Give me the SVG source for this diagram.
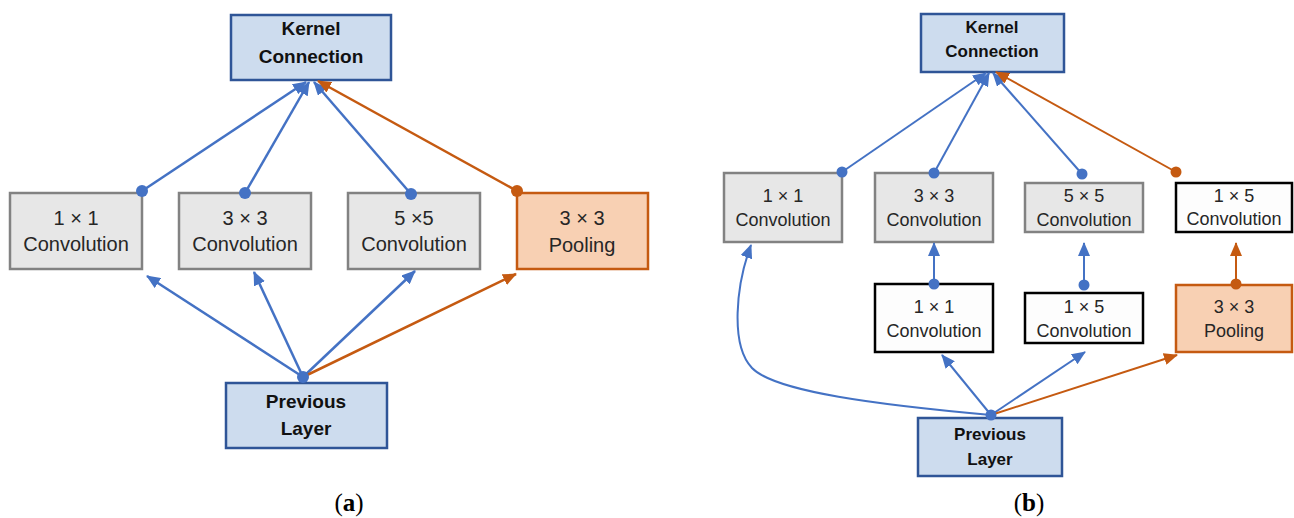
<svg xmlns="http://www.w3.org/2000/svg" width="1294" height="518" viewBox="0 0 1294 518">
<defs>
<style>
.blue{fill:#CDDCEE;stroke:#2F5597;stroke-width:2.5}
.gray{fill:#E7E7E7;stroke:#828282;stroke-width:2.5}
.pool{fill:#F8D0B3;stroke:#C55A11;stroke-width:2.5}
.white{fill:#FDFDFD;stroke:#000;stroke-width:2.5}
.t{font-family:"Liberation Sans",Arial,sans-serif;fill:#262626;text-anchor:middle}
.ta{font-size:20px}
.tb{font-size:18px}
.bt{font-family:"Liberation Sans",Arial,sans-serif;font-weight:bold;fill:#111;text-anchor:middle}
.cb{stroke:#4472C4;stroke-width:2.5;fill:none}
.co{stroke:#C55A11;stroke-width:2.5;fill:none}
.cb2{stroke:#4472C4;stroke-width:2;fill:none}
.co2{stroke:#C55A11;stroke-width:2;fill:none}
.db{fill:#4472C4}
.do{fill:#C55A11}
.lab{font-family:"Liberation Serif","Times New Roman",serif;font-size:25px;fill:#000;text-anchor:middle}
</style>
<marker id="ab" markerUnits="userSpaceOnUse" markerWidth="14" markerHeight="12" refX="13" refY="6" orient="auto" viewBox="0 0 14 12"><path d="M0,0 L14,6 L0,12 z" fill="#4472C4"/></marker>
<marker id="ao" markerUnits="userSpaceOnUse" markerWidth="14" markerHeight="12" refX="13" refY="6" orient="auto" viewBox="0 0 14 12"><path d="M0,0 L14,6 L0,12 z" fill="#C55A11"/></marker>
</defs>
<rect width="1294" height="518" fill="#fff"/>

<!-- panel a nodes -->
<g id="a-kernel"><rect class="blue" x="231" y="15" width="160" height="65"/><text class="bt" font-size="19" x="311" y="35">Kernel</text><text class="bt" font-size="19" x="311" y="63">Connection</text></g>
<g id="a-conv1"><rect class="gray" x="10" y="193" width="132" height="76"/><text class="t ta" x="76" y="225">1 × 1</text><text class="t ta" x="76" y="251">Convolution</text></g>
<g id="a-conv3"><rect class="gray" x="179" y="193" width="132" height="76"/><text class="t ta" x="245" y="225">3 × 3</text><text class="t ta" x="245" y="251">Convolution</text></g>
<g id="a-conv5"><rect class="gray" x="348" y="193" width="132" height="76"/><text class="t ta" x="414" y="225">5 ×5</text><text class="t ta" x="414" y="251">Convolution</text></g>
<g id="a-pool"><rect class="pool" x="517" y="193" width="131" height="76"/><text class="t ta" x="582" y="225">3 × 3</text><text class="t ta" x="582" y="252">Pooling</text></g>
<g id="a-prev"><rect class="blue" x="226" y="383" width="161" height="65"/><text class="bt" font-size="19" x="306" y="408">Previous</text><text class="bt" font-size="19" x="306" y="435">Layer</text></g>
<text class="lab" x="349" y="511">(<tspan font-weight="bold">a</tspan>)</text>

<!-- panel b nodes -->
<g id="b-kernel"><rect class="blue" x="921" y="14" width="143" height="58"/><text class="bt" font-size="17" x="992" y="33">Kernel</text><text class="bt" font-size="17" x="992" y="57">Connection</text></g>
<g id="b-conv1"><rect class="gray" x="724" y="173" width="118" height="69"/><text class="t tb" x="783" y="202">1 × 1</text><text class="t tb" x="783" y="226">Convolution</text></g>
<g id="b-conv3"><rect class="gray" x="875" y="173" width="118" height="69"/><text class="t tb" x="934" y="202">3 × 3</text><text class="t tb" x="934" y="226">Convolution</text></g>
<g id="b-conv5"><rect class="gray" x="1025" y="183" width="118" height="49"/><text class="t tb" x="1084" y="202">5 × 5</text><text class="t tb" x="1084" y="226">Convolution</text></g>
<g id="b-conv15top"><rect class="white" x="1176" y="183" width="116" height="49"/><text class="t tb" x="1234" y="202">1 × 5</text><text class="t tb" x="1234" y="225">Convolution</text></g>
<g id="b-conv1mid"><rect class="white" x="875" y="284" width="118" height="68"/><text class="t tb" x="934" y="313">1 × 1</text><text class="t tb" x="934" y="337">Convolution</text></g>
<g id="b-conv15mid"><rect class="white" x="1025" y="293" width="118" height="50"/><text class="t tb" x="1084" y="313">1 × 5</text><text class="t tb" x="1084" y="337">Convolution</text></g>
<g id="b-pool"><rect class="pool" x="1176" y="285" width="116" height="67"/><text class="t tb" x="1234" y="313">3 × 3</text><text class="t tb" x="1234" y="337">Pooling</text></g>
<g id="b-prev"><rect class="blue" x="918" y="418" width="144" height="58"/><text class="bt" font-size="17" x="990" y="440">Previous</text><text class="bt" font-size="17" x="990" y="465">Layer</text></g>
<text class="lab" x="1029" y="511">(<tspan font-weight="bold">b</tspan>)</text>

<g id="connectors">
<!-- panel a -->
<line class="cb" x1="142" y1="191" x2="306" y2="82" marker-end="url(#ab)"/>
<line class="cb" x1="245" y1="193" x2="309" y2="82" marker-end="url(#ab)"/>
<line class="cb" x1="411" y1="194" x2="314" y2="82" marker-end="url(#ab)"/>
<line class="co" x1="517" y1="191" x2="318" y2="81" marker-end="url(#ao)"/>
<line class="cb" x1="303" y1="377" x2="147" y2="276" marker-end="url(#ab)"/>
<line class="cb" x1="303" y1="377" x2="254" y2="272" marker-end="url(#ab)"/>
<line class="cb" x1="303" y1="377" x2="415" y2="271" marker-end="url(#ab)"/>
<line class="co" x1="303" y1="377" x2="516" y2="274" marker-end="url(#ao)"/>
<circle class="db" cx="142" cy="191" r="6"/>
<circle class="db" cx="245" cy="193" r="6"/>
<circle class="db" cx="411" cy="194" r="6"/>
<circle class="do" cx="517" cy="191" r="6"/>
<circle class="db" cx="303" cy="377" r="6"/>
<!-- panel b -->
<line class="cb2" x1="842" y1="172" x2="986" y2="73" marker-end="url(#ab)"/>
<line class="cb2" x1="934" y1="173" x2="989" y2="73" marker-end="url(#ab)"/>
<line class="cb2" x1="1082" y1="174" x2="993" y2="73" marker-end="url(#ab)"/>
<line class="co2" x1="1176" y1="172" x2="996" y2="72" marker-end="url(#ao)"/>
<line class="cb2" x1="934" y1="284" x2="934" y2="243" marker-end="url(#ab)"/>
<line class="cb2" x1="1084" y1="285" x2="1084" y2="243" marker-end="url(#ab)"/>
<line class="co2" x1="1236" y1="284" x2="1236" y2="243" marker-end="url(#ao)"/>
<path class="cb2" d="M991,415 C880,405 775,392 752,368 C730,345 736,285 751,245" marker-end="url(#ab)"/>
<line class="cb2" x1="991" y1="415" x2="942" y2="355" marker-end="url(#ab)"/>
<line class="cb2" x1="991" y1="415" x2="1085" y2="352" marker-end="url(#ab)"/>
<line class="co2" x1="991" y1="415" x2="1177" y2="355" marker-end="url(#ao)"/>
<circle class="db" cx="842" cy="172" r="5.5"/>
<circle class="db" cx="934" cy="173" r="5.5"/>
<circle class="db" cx="1082" cy="174" r="5.5"/>
<circle class="do" cx="1176" cy="172" r="5.5"/>
<circle class="db" cx="934" cy="284" r="5.5"/>
<circle class="db" cx="1084" cy="285" r="5.5"/>
<circle class="do" cx="1236" cy="284" r="5.5"/>
<circle class="db" cx="991" cy="415" r="5.5"/>
</g>
</svg>
